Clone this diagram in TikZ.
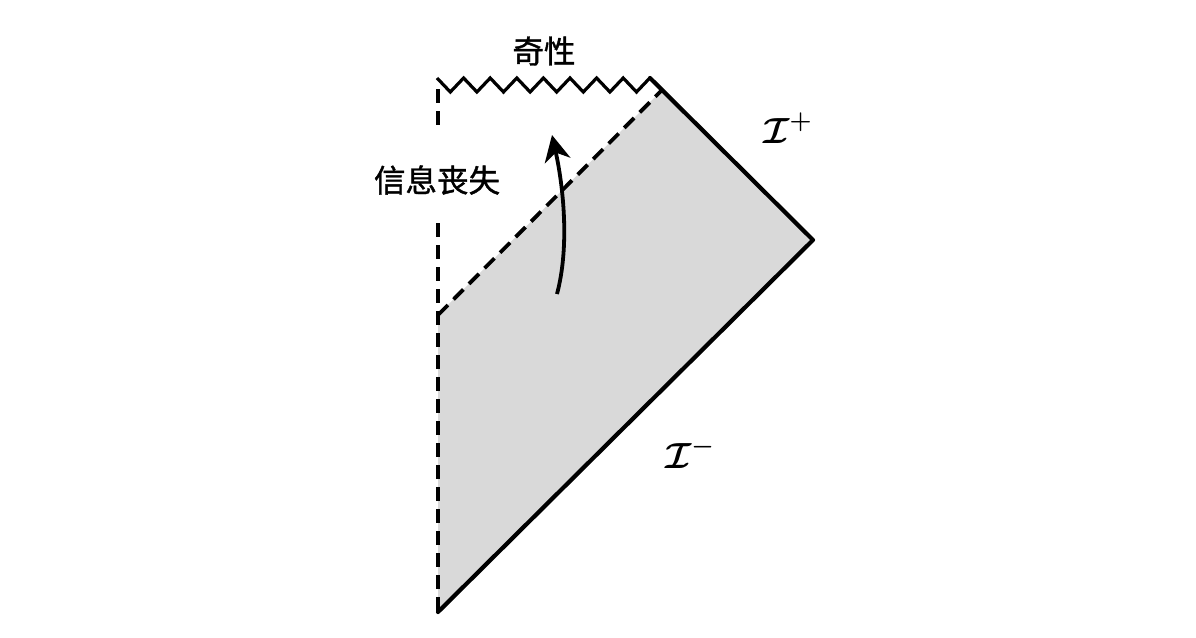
\documentclass[tikz,border=0pt]{standalone}
\usepackage{bm}
\usepackage{fontspec}
\newfontfamily\cjk{Noto Sans CJK SC}[FakeBold=1.2]
\usetikzlibrary{arrows.meta}

\begin{document}
\begin{tikzpicture}[x=1pt,y=-1pt, edge/.style={line width=4.2pt,line cap=round,line join=round}, horizon/.style={line width=3.8pt,dash pattern=on 14pt off 8pt}, label cjk/.style={font=\cjk\fontsize{31.5}{36}\selectfont}, label scri/.style={font=\huge,scale=1.75}]

\useasboundingbox (0,0) rectangle (1196,637);

\begin{scope}
\coordinate (top) at (662,90);
\coordinate (right) at (813,240);
\coordinate (bottom) at (438,612);
\coordinate (hor) at (438,315);
\coordinate (singl) at (437,78);
\coordinate (singr) at (650,78);
\coordinate (gapt) at (438,126);
\coordinate (gapb) at (438,223);

% shaded region
\fill[black!15] (hor) -- (top) -- (right) -- (bottom) -- cycle;

\draw[edge] (singr) -- (right) -- (bottom);
\draw[horizon] (438,89) -- (gapt);
\draw[horizon] (gapb) -- (bottom);
\draw[horizon] (hor) -- (top);

% singularity
\draw[line width=3.2pt,line join=miter] (singl)
  \foreach \i in {1,...,8} { -- ++(13.3,14) -- ++(13.3,-14) };

% infalling arrow
\coordinate (arr0) at (557,294);
\coordinate (arr1) at (552,135);
\draw[line width=3.8pt,-{Stealth[length=26pt,width=26pt,inset=8pt]}] (arr0) .. controls (570,245) and (563,185) .. (arr1);

\node[label cjk] (sing) at (544,51) {奇性};
\node[label cjk] (loss) at (437,180) {信息丧失};
\node[label scri] (scriplus) at (788,128) {$\bm{\mathcal{I}}^{\bm{+}}$};
\node[label scri] (scriminus) at (690,453) {$\bm{\mathcal{I}}^{\bm{-}}$};

%\draw[red] (0,0) rectangle (1196,637);
\end{scope}

\end{tikzpicture}
\end{document}
